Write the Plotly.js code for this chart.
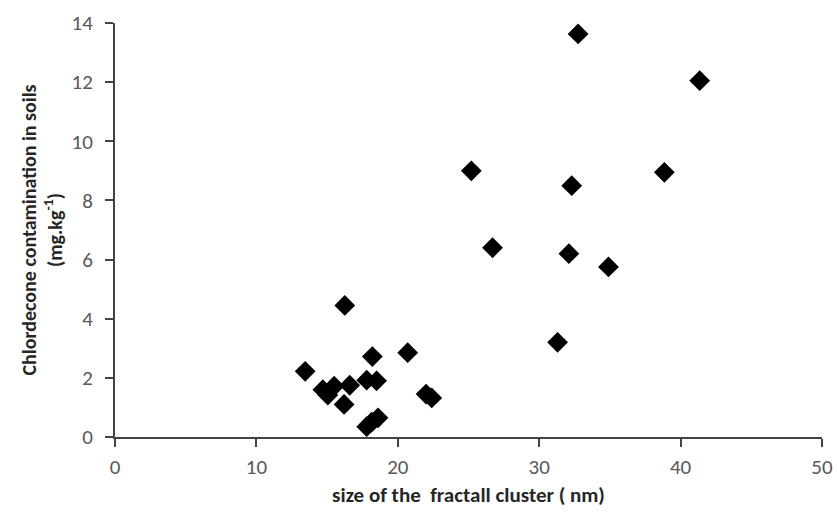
<!DOCTYPE html>
<html>
<head>
<meta charset="utf-8">
<script src="https://cdn.plot.ly/plotly-3.0.1.min.js"></script>
<style>html,body{margin:0;padding:0;background:#fff}#chart{width:839px;height:516px}</style>
</head>
<body>
<div id="chart"></div>
<script>
const clusterSize = [32.75, 41.35, 25.2, 38.85, 32.3, 26.7, 32.1, 34.9, 31.3,
  16.25, 18.2, 20.7, 13.45, 14.7, 15.05, 15.5, 16.6, 17.8, 18.5, 16.2, 22.0, 22.4, 17.8, 18.15, 18.6];
const chlordecone = [13.63, 12.05, 9.0, 8.95, 8.5, 6.4, 6.2, 5.75, 3.2,
  4.45, 2.72, 2.85, 2.22, 1.6, 1.42, 1.72, 1.75, 1.92, 1.9, 1.1, 1.45, 1.32, 0.35, 0.5, 0.65];
const xTicks = [0, 10, 20, 30, 40, 50];
const yTicks = [0, 2, 4, 6, 8, 10, 12, 14];

const fontFam = 'Carlito, Lato, "Open Sans", sans-serif';
Plotly.newPlot('chart', [{
  x: clusterSize, y: chlordecone, type: 'scatter', mode: 'markers',
  marker: {symbol: 'diamond', size: 16, color: '#000'}
}], {
  width: 839, height: 516,
  margin: {l: 115, r: 17, t: 23, b: 79},
  paper_bgcolor: '#fff', plot_bgcolor: '#fff',
  showlegend: false,
  font: {family: fontFam, color: '#595959', size: 21},
  xaxis: {
    range: [0, 50], tickvals: xTicks, ticktext: xTicks.map(String),
    showgrid: false, zeroline: false, showline: true, linecolor: '#444', linewidth: 2,
    ticks: 'outside', ticklen: 8, tickcolor: '#444', tickwidth: 2, ticklabelstandoff: 2,
    tickfont: {family: fontFam, size: 21, color: '#595959'},
    title: {text: '<b>size of the  fractall cluster ( nm)</b>', font: {family: fontFam, size: 21, color: '#262626'}, standoff: 8}
  },
  yaxis: {
    range: [0, 14], tickvals: yTicks, ticktext: yTicks.map(String),
    showgrid: false, zeroline: false, showline: true, linecolor: '#444', linewidth: 2,
    ticks: 'outside', ticklen: 8, tickcolor: '#444', tickwidth: 2, ticklabelstandoff: 8,
    tickfont: {family: fontFam, size: 21, color: '#595959'},
    title: {text: '<b>Chlordecone contamination in soils<br>(mg.kg<sup>-1</sup>)</b>', font: {family: fontFam, size: 20, color: '#262626'}, standoff: 4}
  }
}, {staticPlot: true});
</script>
</body>
</html>
